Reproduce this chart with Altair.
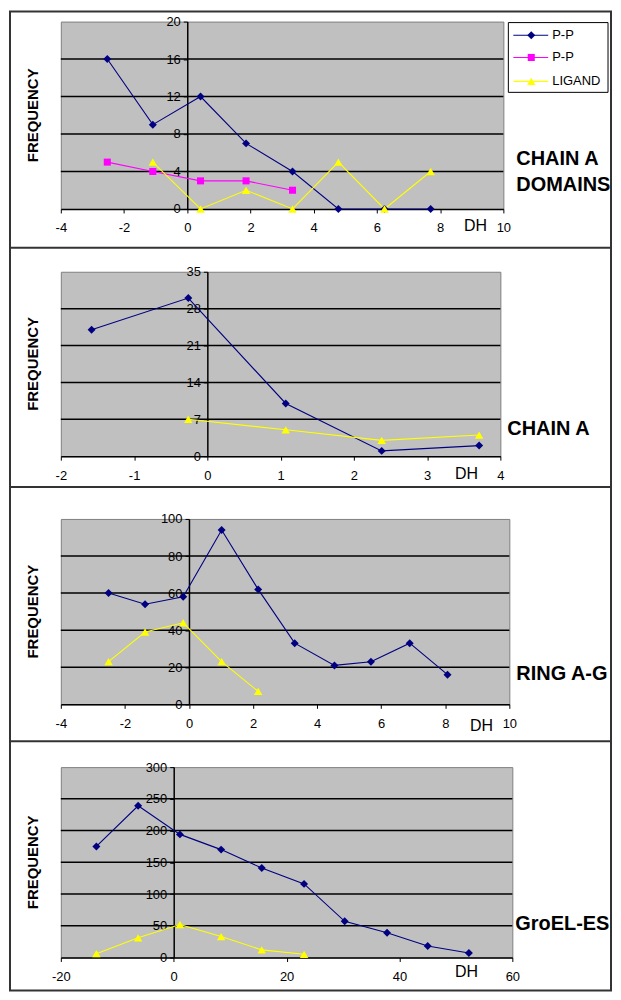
import altair as alt
import pandas as pd

# ---------------- data ----------------
# Panel 1: CHAIN A DOMAINS
p1_dh = [-2.53, -1.09, 0.42, 1.86, 3.33, 4.78, 6.24, 7.70]
p1_pp = [16, 9, 12, 7, 4, 0, 0, 0]
p1_pp2_dh = [-2.53, -1.09, 0.42, 1.86, 3.33]
p1_pp2 = [5, 4, 3, 3, 2]
p1_lig_dh = [-1.09, 0.42, 1.86, 3.33, 4.78, 6.24, 7.70]
p1_lig = [5, 0, 2, 0, 5, 0, 4]
p1_xticks = [-4, -2, 0, 2, 4, 6, 8, 10]
p1_yticks = [0, 4, 8, 12, 16, 20]

# Panel 2: CHAIN A
p2_dh = [-1.58, -0.26, 1.07, 2.38, 3.71]
p2_pp = [24, 30, 10, 1, 2]
p2_lig_dh = [-0.26, 1.07, 2.38, 3.71]
p2_lig = [7, 5, 3, 4]
p2_xticks = [-2, -1, 0, 1, 2, 3, 4]
p2_yticks = [0, 7, 14, 21, 28, 35]

# Panel 3: RING A-G
p3_dh = [-2.51, -1.37, -0.18, 1.02, 2.16, 3.30, 4.54, 5.68, 6.89, 8.07]
p3_pp = [60, 54, 58, 94, 62, 33, 21, 23, 33, 16]
p3_lig_dh = [-2.51, -1.37, -0.18, 1.02, 2.16]
p3_lig = [23, 39, 44, 23, 7]
p3_xticks = [-4, -2, 0, 2, 4, 6, 8, 10]
p3_yticks = [0, 20, 40, 60, 80, 100]

# Panel 4: GroEL-ES
p4_dh = [-13.7, -6.3, 1.1, 8.4, 15.6, 23.1, 30.3, 37.8, 45.0, 52.3]
p4_pp = [175, 239, 194, 170, 141, 116, 57, 39, 18, 7]
p4_lig_dh = [-13.7, -6.3, 1.1, 8.4, 15.6, 23.1]
p4_lig = [6, 31, 52, 33, 12, 5]
p4_xticks = [-20, 0, 20, 40, 60]
p4_yticks = [0, 50, 100, 150, 200, 250, 300]

legend_labels = ["P-P", "P-P", "LIGAND"]
panel_titles = [["CHAIN A", "DOMAINS"], ["CHAIN A"], ["RING A-G"], ["GroEL-ES"]]
y_title = "FREQUENCY"
x_title = "DH"

# ---------------- styles ----------------
FONT = "Liberation Sans"
NAVY = "#000080"
MAGENTA = "#FF00FF"
YELLOW = "#FFFF00"
FRAME = "#333333"
STY_PP = (NAVY, "diamond", 64)
STY_PP2 = (MAGENTA, "square", 50)
STY_LIG = (YELLOW, "triangle-up", 72)
HYPHEN_LABEL = "datum.value < 0 ? '-' + abs(datum.value) : '' + datum.value"

one = pd.DataFrame({"k": [0]})


def text_layer(txt, x, y, size, bold=False, align="left", angle=0):
    kw = dict(text=txt, font=FONT, fontSize=size, color="black",
              align=align, baseline="middle")
    if bold:
        kw["fontWeight"] = "bold"
    if angle:
        kw["angle"] = angle
    return alt.Chart(one).mark_text(**kw).encode(x=alt.value(x), y=alt.value(y))


def build_panel(w, h, xticks, yticks, series, titles, title_x, title_ys, dh_xy, extras=()):
    xdom = [xticks[0], xticks[-1]]
    ydom = [yticks[0], yticks[-1]]
    pos = w * (0 - xdom[0]) / (xdom[1] - xdom[0])
    xenc = alt.X(
        "dh:Q",
        scale=alt.Scale(domain=xdom, nice=False, zero=False),
        axis=alt.Axis(values=xticks, title=None, grid=False, orient="bottom",
                      domainColor="black", domainWidth=1.5, tickColor="black",
                      tickWidth=1, tickSize=4, labelPadding=9, labelFlush=False,
                      labelOverlap=False, labelAngle=0, labelFont=FONT,
                      labelFontSize=13, labelColor="black", labelExpr=HYPHEN_LABEL),
    )
    yenc = alt.Y(
        "freq:Q",
        scale=alt.Scale(domain=ydom, nice=False, zero=True),
        axis=alt.Axis(values=yticks, title=None, grid=False, orient="left",
                      offset=-pos,
                      domainColor="black", domainWidth=1.5, tickColor="black",
                      tickWidth=1, tickSize=4, labelPadding=3, labelFlush=False,
                      labelOverlap=False, labelFont=FONT, labelFontSize=13,
                      labelColor="black"),
    )
    grid_df = pd.DataFrame({"freq": yticks[1:-1]})
    layers = [
        alt.Chart(grid_df).mark_rule(color="black", strokeWidth=1.5).encode(
            y=yenc, x=alt.value(0), x2=alt.value(w))
    ]
    bases = []
    for xs, ys, sty in series:
        df = pd.DataFrame({"dh": xs, "freq": ys})
        bases.append((alt.Chart(df).encode(x=xenc, y=yenc), sty))
    for base, (color, shape, size) in bases:
        layers.append(base.mark_line(color=color, strokeWidth=1.1))
    for base, (color, shape, size) in bases:
        layers.append(base.mark_point(shape=shape, filled=True, color=color,
                                      size=size, opacity=1, strokeWidth=0))
    layers.append(text_layer(y_title, -28, h / 2, 15, bold=True, align="center", angle=270))
    for t, ty in zip(titles, title_ys):
        layers.append(text_layer(t, title_x, ty, 20, bold=True))
    layers.append(text_layer(x_title, dh_xy[0], dh_xy[1], 16, align="center"))
    layers.extend(extras)
    return alt.layer(*layers).properties(width=w, height=h)


# legend + frame + separators (drawn within panel 1's coordinate system)
extras1 = [
    alt.Chart(one).mark_rect(fill="white", stroke=FRAME, fillOpacity=0, strokeWidth=2).encode(
        x=alt.value(-51), x2=alt.value(552), y=alt.value(-10), y2=alt.value(972)),
    alt.Chart(one).mark_rect(fill="white", stroke="black", strokeWidth=1).encode(
        x=alt.value(449), x2=alt.value(549), y=alt.value(1), y2=alt.value(71)),
]
for sy in [227, 467, 722]:
    extras1.append(alt.Chart(one).mark_rule(color=FRAME, strokeWidth=2).encode(
        x=alt.value(-51), x2=alt.value(552), y=alt.value(sy)))
for lbl, (color, shape, size), ly in zip(legend_labels, [STY_PP, STY_PP2, STY_LIG], [13.7, 36, 60]):
    extras1.append(alt.Chart(one).mark_rule(color=color, strokeWidth=1.1).encode(
        x=alt.value(454), x2=alt.value(489), y=alt.value(ly)))
    extras1.append(alt.Chart(one).mark_point(shape=shape, filled=True, color=color,
                                             size=size, opacity=1, strokeWidth=0).encode(
        x=alt.value(472), y=alt.value(ly)))
    extras1.append(text_layer(lbl, 493, ly, 13))

h1, h2, h3, h4 = 188, 185, 186, 191

panel1 = build_panel(
    444, h1, p1_xticks, p1_yticks,
    [(p1_dh, p1_pp, STY_PP), (p1_pp2_dh, p1_pp2, STY_PP2), (p1_lig_dh, p1_lig, STY_LIG)],
    panel_titles[0], 457, [137.7, 164.3], (416, h1 + 17), extras1)
panel2 = build_panel(
    441, h2, p2_xticks, p2_yticks,
    [(p2_dh, p2_pp, STY_PP), (p2_lig_dh, p2_lig, STY_LIG)],
    panel_titles[1], 448, [158], (407, h2 + 18))
panel3 = build_panel(
    450, h3, p3_xticks, p3_yticks,
    [(p3_dh, p3_pp, STY_PP), (p3_lig_dh, p3_lig, STY_LIG)],
    panel_titles[2], 457, [156], (422, h3 + 22))
panel4 = build_panel(
    453, h4, p4_xticks, p4_yticks,
    [(p4_dh, p4_pp, STY_PP), (p4_lig_dh, p4_lig, STY_LIG)],
    panel_titles[3], 456, [157], (407, h4 + 15))

chart = alt.vconcat(panel1, panel2, panel3, panel4, spacing=63, bounds="flush",
                    padding=0, background="white").configure_view(
    fill="#C0C0C0", stroke="#808080", strokeWidth=1)

chart.save("out.html", embed_options={"renderer": "svg", "actions": False})
